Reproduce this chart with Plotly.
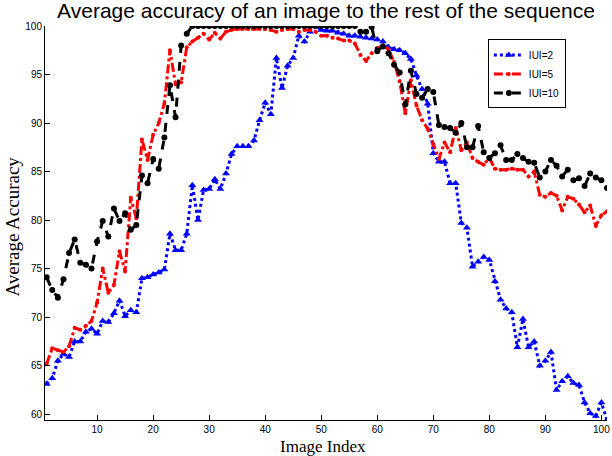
import plotly.graph_objects as go

# image index along the sequence
image_index = list(range(1, 102))

# average accuracy
acc_iui2 = [
    63.1, 63.7, 65.5, 66.2, 65.9, 67.5, 67.5, 68.5, 68.8, 68.3,
    69.6, 69.5, 70.4, 71.7, 70.1, 70.7, 70.5, 74.0, 74.1, 74.4,
    74.6, 74.9, 78.6, 76.9, 76.9, 78.6, 83.6, 80.0, 83.1, 83.2,
    84.2, 83.2, 84.8, 86.8, 87.6, 87.6, 87.6, 88.2, 90.3, 92.1,
    90.9, 96.7, 93.6, 95.9, 96.7, 99.0, 98.4, 99.4, 100.0, 99.6,
    99.5, 99.5, 99.3, 99.2, 99.0, 99.0, 98.9, 98.8, 98.7, 98.6,
    98.4, 97.8, 97.6, 97.5, 97.2, 96.6, 94.9, 93.5, 92.0, 86.9,
    86.0, 86.0, 83.8, 83.8, 79.7, 79.2, 75.2, 75.7, 76.2, 75.9,
    73.7, 71.8, 70.9, 70.5, 66.9, 69.8, 66.9, 67.5, 65.0, 65.5,
    66.4, 62.5, 63.4, 63.9, 63.2, 63.0, 61.2, 60.1, 59.8, 61.2,
    59.4,
]
acc_iui5 = [
    65.2, 66.8, 66.6, 66.4, 67.0, 68.9, 68.7, 69.1, 69.6, 71.5,
    75.0, 72.5, 73.3, 76.8, 74.7, 82.3, 80.2, 88.3, 86.2, 88.8,
    90.0, 92.0, 97.5, 94.0, 94.2, 97.8, 98.4, 98.8, 99.2, 98.6,
    99.3, 98.7, 99.4, 99.6, 99.7, 99.7, 99.7, 99.7, 99.7, 99.7,
    99.6, 99.4, 99.6, 99.7, 99.7, 99.4, 99.6, 99.6, 99.4, 99.0,
    99.0, 98.8, 98.7, 98.5, 98.5, 98.2, 97.0, 96.4, 97.2, 97.7,
    98.0, 97.6, 96.3, 94.3, 91.0, 94.4, 91.8, 90.3, 89.4, 87.8,
    86.3, 88.0, 87.0, 89.5, 87.2, 88.0, 86.4, 86.0, 85.7, 86.4,
    85.3, 85.2, 85.2, 85.3, 85.2, 85.2, 84.5, 85.0, 82.6, 82.4,
    82.8, 82.5, 81.0, 82.4, 82.2, 81.6, 80.8, 81.5, 79.4, 80.5,
    80.9,
]
acc_iui10 = [
    74.1, 72.8, 72.0, 73.9, 76.6, 78.0, 75.6, 75.4, 75.0, 77.8,
    79.9, 78.3, 81.2, 79.9, 80.7, 79.0, 79.5, 84.6, 83.8, 86.3,
    85.3, 88.5, 93.9, 90.6, 98.0, 99.2, 100.0, 100.0, 100.0, 100.0,
    100.0, 100.0, 100.0, 100.0, 100.0, 100.0, 100.0, 100.0, 100.0, 100.0,
    100.0, 100.0, 100.0, 100.0, 100.0, 100.0, 100.0, 100.0, 100.0, 100.0,
    100.0, 100.0, 100.0, 100.0, 100.0, 100.0, 99.4, 99.4, 99.9, 97.4,
    97.9, 97.2, 96.0, 95.2, 91.9, 95.4, 93.0, 92.6, 93.5, 93.2,
    89.8, 89.6, 89.5, 89.0, 90.0, 87.5, 87.5, 89.7, 87.0, 86.4,
    86.9, 87.7, 86.2, 86.2, 86.8, 86.4, 86.0, 85.9, 84.4, 85.0,
    86.2, 85.6, 84.5, 85.2, 84.1, 84.3, 83.5, 84.8, 84.4, 84.1,
    83.3,
]

series = [
    ("IUI=2", acc_iui2, "blue", "dot", "triangle-up", 7),
    ("IUI=5", acc_iui5, "red", "dashdot", "circle", 4),
    ("IUI=10", acc_iui10, "black", "dash", "circle", 6),
]

fig = go.Figure()
for name, values, color, dash, symbol, msize in series:
    fig.add_trace(go.Scatter(
        x=image_index,
        y=values,
        name=name,
        mode="lines+markers",
        line=dict(color=color, width=3, dash=dash),
        marker=dict(color=color, symbol=symbol, size=msize),
    ))

axis_style = dict(
    showline=True,
    linecolor="black",
    linewidth=1,
    ticks="inside",
    ticklen=5,
    tickcolor="black",
    showgrid=False,
    zeroline=False,
    automargin=False,
    tickfont=dict(family="Liberation Sans", size=10, color="black"),
)

fig.update_layout(
    width=612,
    height=456,
    margin=dict(l=45, r=5, t=26, b=36),
    paper_bgcolor="white",
    plot_bgcolor="white",
    title=dict(
        text="Average accuracy of an image to the rest of the sequence",
        x=0.5,
        xref="paper",
        xanchor="center",
        y=0.976,
        yanchor="middle",
        font=dict(family="Liberation Sans", size=21, color="black"),
    ),
    legend=dict(
        x=0.788,
        y=0.966,
        xanchor="left",
        yanchor="top",
        bgcolor="white",
        bordercolor="black",
        borderwidth=1,
        font=dict(family="Liberation Sans", size=10, color="black"),
    ),
    annotations=[
        dict(text="Image Index", xref="paper", yref="paper", x=0.494, y=-0.066,
             xanchor="center", yanchor="middle", showarrow=False, borderpad=0,
             font=dict(family="Liberation Serif", size=17, color="black")),
        dict(text="Average Accuracy", xref="paper", yref="paper", x=-0.058, y=0.492,
             xanchor="center", yanchor="middle", textangle=-90, showarrow=False,
             font=dict(family="Liberation Serif", size=19, color="black")),
    ],
    showlegend=True,
)
fig.update_xaxes(
    range=[0.7, 101],
    tickvals=[10, 20, 30, 40, 50, 60, 70, 80, 90, 100],
    **axis_style,
)
fig.update_yaxes(
    range=[59.4, 100],
    tickvals=[60, 65, 70, 75, 80, 85, 90, 95, 100],
    **axis_style,
)

# the page keeps a default body margin; drop it so the figure sits at 0,0
fig.write_html(
    "out.html",
    config={"displayModeBar": False},
    post_script="document.body.style.margin = '0';",
)
